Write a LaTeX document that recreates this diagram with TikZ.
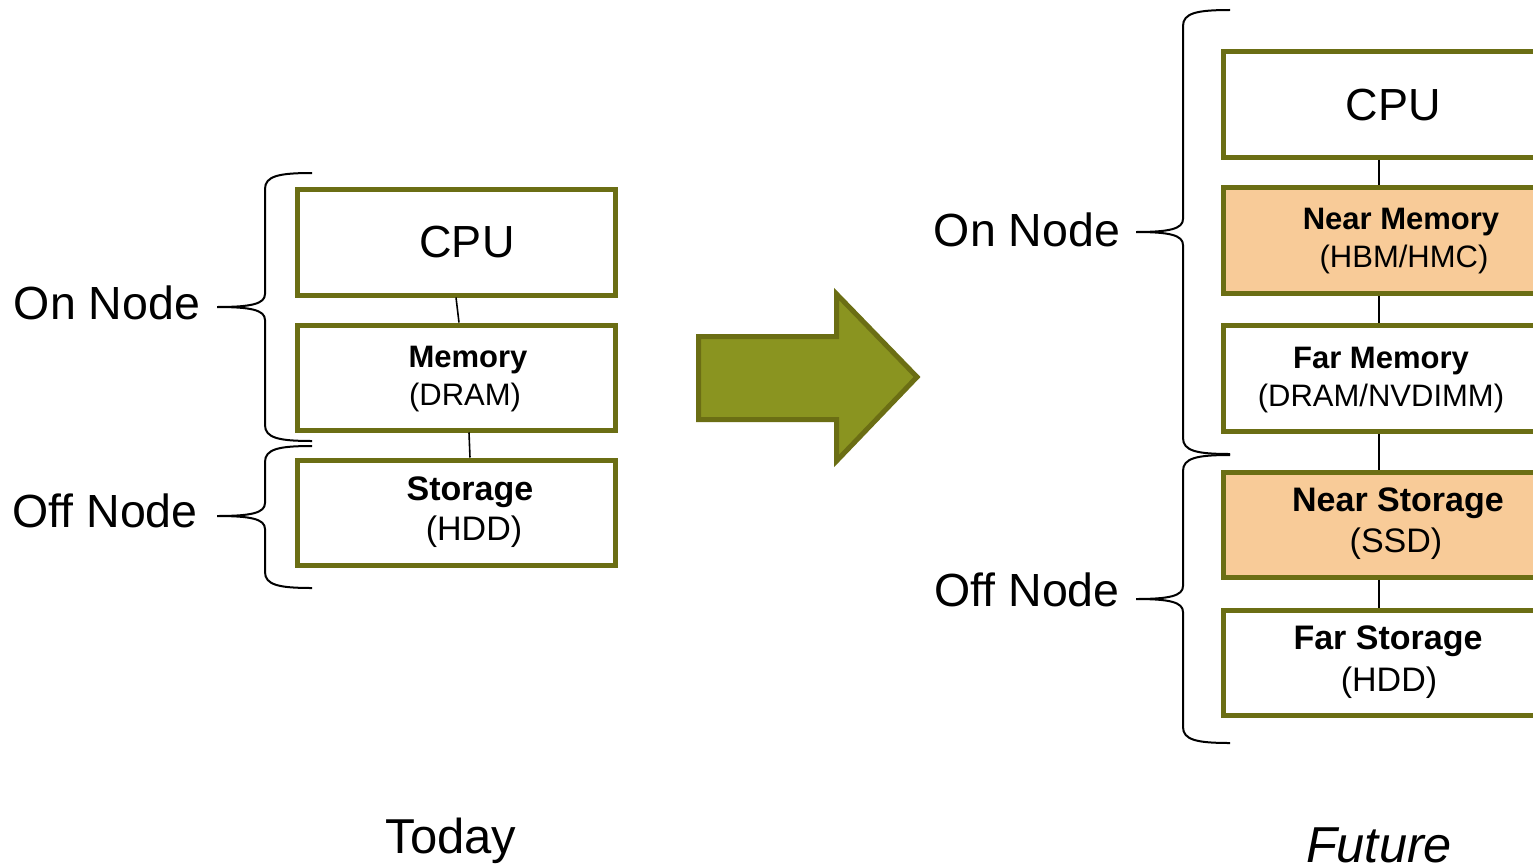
\documentclass[tikz,border=0pt]{standalone}
\usepackage{fontspec}
\setmainfont{Liberation Sans}
\usetikzlibrary{calc}
\definecolor{olive}{RGB}{107,110,20}
\definecolor{arrowfill}{RGB}{138,148,32}
\definecolor{peach}{RGB}{248,203,152}
\newcommand\mybracepath[6]{%
  \draw[bracestyle] (#1,#4) .. controls (#2+14,#4) and (#2,#4+3) .. (#2,#4+16)
    -- (#2,#5-13) .. controls (#2,#5-3) and (#2-14,#5) .. (#3,#5)
    .. controls (#2-14,#5) and (#2,#5+3) .. (#2,#5+13)
    -- (#2,#6-16) .. controls (#2,#6-3) and (#2+14,#6) .. (#1,#6);}
\tikzset{
  box/.style={draw=olive, line width=5pt, fill=white, inner sep=0pt},
  nearbox/.style={box, fill=peach},
  conn/.style={draw=black, line width=1.6pt},
  conntwo/.style={draw=black, line width=2.4pt},
  bracestyle/.style={draw=black, line width=2pt},
  big/.style={font=\fontsize{46.5}{50}\selectfont, inner sep=0pt},
  cpu/.style={font=\fontsize{45}{50}\selectfont, inner sep=0pt},
  boldt/.style={font=\bfseries\fontsize{31}{36}\selectfont, inner sep=0pt},
  subt/.style={font=\fontsize{31}{36}\selectfont, inner sep=0pt},
  boldl/.style={font=\bfseries\fontsize{34}{38}\selectfont, inner sep=0pt},
  subl/.style={font=\fontsize{34}{38}\selectfont, inner sep=0pt},
}
\begin{document}
\begin{tikzpicture}[x=1pt, y=-1pt]
\useasboundingbox (0,0) rectangle (1533,867);
\clip (0,0) rectangle (1533,867);
\fill[white] (0,0) rectangle (1533,867);

% ---------- Today ----------
\node[box, minimum width=318pt, minimum height=106pt] (cpu) at (456,242) {};
\node[box, minimum width=318pt, minimum height=105pt] (mem) at (456,377.5) {};
\node[box, minimum width=318pt, minimum height=105pt] (stor) at (456,512.5) {};
\draw[conn] (cpu.south) -- ($(mem.north)+(3,0)$);
\draw[conn] ($(mem.south)+(13,0)$) -- ($(stor.north)+(14,0)$);

\node[cpu] (tcpu) at (467,242) {CPU};
\node[boldt] (tmem) at (468,360) {Memory};
\node[subt] (tdram) at (465,397) {(DRAM)};
\node[boldl] (tstor) at (470,492) {Storage};
\node[subl] (thdd) at (474,532) {(HDD)};

\mybracepath{312}{265}{217}{173}{307}{441}
\mybracepath{312}{265}{217}{446}{516}{588}

\node[big] (onl) at (107,303) {On Node};
\node[big] (offl) at (105,511) {Off Node};
\node[font=\fontsize{49}{54}\selectfont, inner sep=0pt] (today) at (451,841) {Today};

% ---------- Arrow ----------
\draw[draw=olive, fill=arrowfill, line width=5pt, line join=miter]
  (698.5,336.5) -- (836.5,336.5) -- (836.5,294) -- (917,377) -- (836.5,461)
  -- (836.5,419.5) -- (698.5,419.5) -- cycle;

% ---------- Future ----------
\coordinate (vx) at (1379,0);
\node[box, minimum width=340pt, minimum height=105pt] (fcpu) at (1393,104.5) {};
\node[nearbox, minimum width=340pt, minimum height=106pt] (nmem) at (1393,240) {};
\node[box, minimum width=340pt, minimum height=106pt] (fmem) at (1393,378) {};
\node[nearbox, minimum width=340pt, minimum height=105pt] (nsto) at (1393,524.5) {};
\node[box, minimum width=340pt, minimum height=105pt] (fsto) at (1393,662.5) {};
\draw[conntwo] (fcpu.south -| vx) -- (nmem.north -| vx);
\draw[conntwo] (nmem.south -| vx) -- (fmem.north -| vx);
\draw[conntwo] (fmem.south -| vx) -- (nsto.north -| vx);
\draw[conntwo] (nsto.south -| vx) -- (fsto.north -| vx);

\node[cpu] (fcput) at (1393,105) {CPU};
\node[boldt] (tnm) at (1401,222) {Near Memory};
\node[subt] (thbm) at (1404,259) {(HBM/HMC)};
\node[boldt] (tfm) at (1381,361) {Far Memory};
\node[subt] (tnv) at (1381,398) {(DRAM/NVDIMM)};
\node[boldl] (tns) at (1398,503) {Near Storage};
\node[subl] (tssd) at (1396,544) {(SSD)};
\node[boldl] (tfs) at (1388,641) {Far Storage};
\node[subl] (tfhdd) at (1389,683) {(HDD)};

\mybracepath{1230}{1183}{1136}{10}{232}{454}
\mybracepath{1230}{1183}{1136}{455}{599}{743}

\node[big] (fon) at (1027,230) {On Node};
\node[big] (foff) at (1027,590) {Off Node};
\node[font=\itshape\fontsize{50.5}{55}\selectfont, inner sep=0pt] (future) at (1379,845) {Future};
\end{tikzpicture}
\end{document}
